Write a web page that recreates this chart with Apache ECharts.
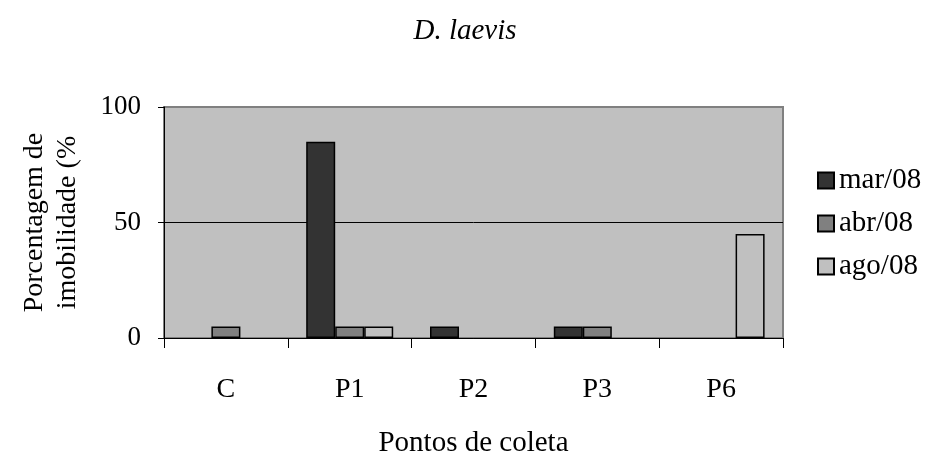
<!DOCTYPE html>
<html>
<head>
<meta charset="utf-8">
<script src="https://cdn.jsdelivr.net/npm/echarts@6/dist/echarts.min.js"></script>
<style>
    html, body { margin: 0; padding: 0; background: #fff; }
    #chart { width: 930px; height: 456px; }
</style>
</head>
<body>
<div id="chart"></div>
<script>
    // pontos de coleta
    var categories = ['C', 'P1', 'P2', 'P3', 'P6'];
    // % de imobilidade por mês
    var mar08 = [0, 85, 5, 5, 0];
    var abr08 = [5, 5, 0, 5, 0];
    var ago08 = [0, 5, 0, 0, 45];
    var yTicks = [0, 50, 100];

    var font = '"Liberation Serif", "Times New Roman", serif';

    function barSeries(name, data, color) {
        return {
            name: name,
            type: 'bar',
            // zero values are not drawn in the original
            data: data.map(function (v) { return v === 0 ? '-' : v; }),
            barWidth: 29,
            barGap: '0%',
            itemStyle: { color: color, borderColor: '#000', borderWidth: 1.5 }
        };
    }

    var chart = echarts.init(document.getElementById('chart'), null, { renderer: 'canvas' });
    chart.setOption({
        animation: false,
        backgroundColor: '#fff',
        title: {
            text: 'D. laevis',
            left: 'center',
            top: 12,
            textStyle: { fontFamily: font, fontStyle: 'italic', fontWeight: 'normal', fontSize: 29, color: '#000' }
        },
        legend: {
            orient: 'vertical',
            left: 817,
            top: 166,
            padding: 0,
            icon: 'rect',
            itemWidth: 16,
            itemHeight: 16,
            itemGap: 14,
            textStyle: { fontFamily: font, fontSize: 29, lineHeight: 28, color: '#000' },
            data: ['mar/08', 'abr/08', 'ago/08']
        },
        grid: {
            left: 164,
            right: 147,
            top: 107,
            bottom: 118,
            outerBoundsMode: 'none',
            containLabel: false,
            show: true,
            backgroundColor: '#c0c0c0',
            borderColor: '#808080',
            borderWidth: 2
        },
        xAxis: {
            type: 'category',
            data: categories,
            name: 'Pontos de coleta',
            nameLocation: 'middle',
            nameGap: 91,
            nameTextStyle: { fontFamily: font, fontSize: 29, color: '#000' },
            axisLine: { lineStyle: { color: '#000', width: 1 } },
            axisTick: { show: true, length: 10, lineStyle: { color: '#000' } },
            axisLabel: { fontFamily: font, fontSize: 28, color: '#000', margin: 38 }
        },
        yAxis: {
            type: 'value',
            min: yTicks[0],
            max: yTicks[yTicks.length - 1],
            interval: 50,
            name: 'Porcentagem de\nimobilidade (%',
            nameLocation: 'middle',
            nameGap: 80,
            nameRotate: 90,
            nameTextStyle: {
                fontFamily: font, fontSize: 28, lineHeight: 33, color: '#000',
                width: 206, overflow: 'truncate', ellipsis: ''
            },
            axisLine: { show: true, lineStyle: { color: '#000', width: 1 } },
            axisTick: { show: true, length: 6, lineStyle: { color: '#000' } },
            axisLabel: { fontFamily: font, fontSize: 27, color: '#000', margin: 23 },
            splitLine: { show: true, lineStyle: { color: ['#000', '#000', '#808080'], width: 1 } }
        },
        series: [
            barSeries('mar/08', mar08, '#333333'),
            barSeries('abr/08', abr08, '#808080'),
            barSeries('ago/08', ago08, '#c0c0c0')
        ]
    });
</script>
</body>
</html>
